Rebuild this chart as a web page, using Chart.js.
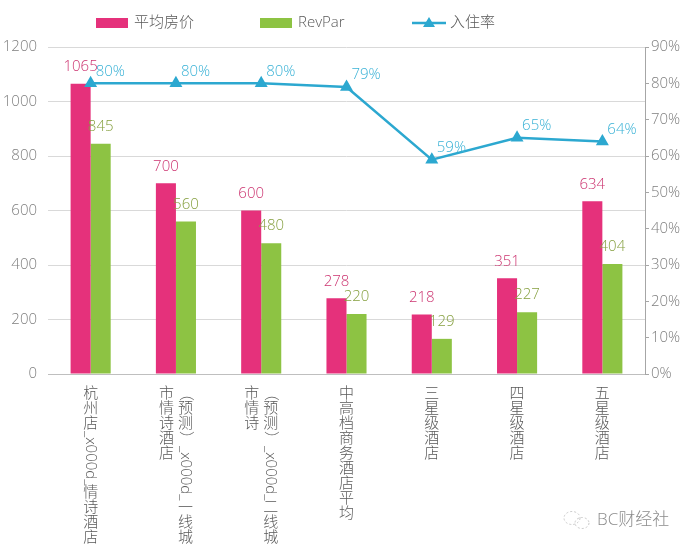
<!DOCTYPE html>
<html>
<head>
<meta charset="utf-8">
<title>平均房价 / RevPar / 入住率</title>
<script src="https://cdn.jsdelivr.net/npm/chart.js@4"></script>
<style>
  html, body { margin: 0; padding: 0; background: #fff; }
  canvas { display: block; }
</style>
</head>
<body>
<canvas id="hotelChart" width="692" height="550"></canvas>
<script>
// Chart data (columns of each category label, first column is drawn rightmost)
const categories = [
  ['杭州店_x000d_情诗酒店'],
  ['（预测）_x000d_一线城', '市情诗酒店'],
  ['（预测）_x000d_二线城', '市情诗'],
  ['中高档商务酒店平均'],
  ['三星级酒店'],
  ['四星级酒店'],
  ['五星级酒店']
];
const avgPrice = [1065, 700, 600, 278, 218, 351, 634];
const revPar = [845, 560, 480, 220, 129, 227, 404];
const occupancy = [80, 80, 80, 79, 59, 65, 64];
const priceTicks = [0, 200, 400, 600, 800, 1000, 1200];
const rateTicks = [0, 10, 20, 30, 40, 50, 60, 70, 80, 90];

const FONT = '"Open Sans", "Noto Sans CJK SC", sans-serif';
const WEIGHT = '300';
const PINK = '#e5317b';
const GREEN = '#8dc343';
const BLUE = '#2ca8d0';

Chart.defaults.font.family = FONT;
Chart.defaults.font.size = 15;
Chart.defaults.font.weight = WEIGHT;
Chart.defaults.color = '#7f7f7f';

// Value labels above bars and beside line points
const valueLabels = {
  id: 'valueLabels',
  afterDatasetsDraw(chart) {
    const ctx = chart.ctx;
    ctx.save();
    ctx.font = WEIGHT + ' 15px ' + FONT;
    chart.data.datasets.forEach((ds, di) => {
      const meta = chart.getDatasetMeta(di);
      meta.data.forEach((el, i) => {
        const v = ds.data[i];
        ctx.fillStyle = ds.labelColor;
        ctx.textBaseline = 'middle';
        if (ds.type === 'line') {
          ctx.textAlign = 'left';
          ctx.fillText(v + '%', el.x + 5, el.y - 12);
        } else {
          ctx.textAlign = 'center';
          ctx.fillText(String(v), el.x, el.y - 17);
        }
      });
    });
    ctx.restore();
  }
};

// Stacked vertical category labels
const verticalLabels = {
  id: 'verticalLabels',
  afterDraw(chart) {
    const ctx = chart.ctx;
    const x = chart.scales.x;
    const step = 15, colGap = 19, top = 386;
    ctx.save();
    ctx.font = WEIGHT + ' 15px ' + FONT;
    ctx.fillStyle = '#595959';
    chart.data.labels.forEach((cols, i) => {
      const cx = x.getPixelForValue(i);
      cols.forEach((text, k) => {
        const colX = cx + (cols.length - 1) / 2 * colGap - k * colGap;
        let y = top;
        let run = '';
        const flush = () => {
          if (!run) return;
          ctx.save();
          ctx.translate(colX, y);
          ctx.rotate(Math.PI / 2);
          ctx.textAlign = 'left';
          ctx.textBaseline = 'middle';
          ctx.fillText(run, 0, 0);
          ctx.restore();
          y += ctx.measureText(run).width;
          run = '';
        };
        for (const ch of text) {
          if (ch.charCodeAt(0) < 128) { run += ch; continue; }
          flush();
          ctx.textAlign = 'center';
          ctx.textBaseline = 'middle';
          if (ch === '（' || ch === '）') {
            ctx.save();
            ctx.translate(colX, y + step / 2);
            ctx.rotate(Math.PI / 2);
            ctx.fillText(ch, 0, 0);
            ctx.restore();
          } else {
            ctx.fillText(ch, colX, y + step / 2);
          }
          y += step;
        }
        flush();
      });
    });
    ctx.restore();
  }
};

// Legend on top + watermark
const topLegend = {
  id: 'topLegend',
  afterDraw(chart) {
    const ctx = chart.ctx;
    const xs = [96, 260, 412];
    const y = 23;
    ctx.save();
    ctx.font = WEIGHT + ' 15px ' + FONT;
    ctx.textBaseline = 'middle';
    ctx.textAlign = 'left';
    chart.data.datasets.forEach((ds, i) => {
      const x0 = xs[i];
      if (ds.type === 'line') {
        ctx.strokeStyle = ds.borderColor;
        ctx.lineWidth = 2.5;
        ctx.beginPath();
        ctx.moveTo(x0, y);
        ctx.lineTo(x0 + 34, y);
        ctx.stroke();
        ctx.fillStyle = ds.borderColor;
        ctx.beginPath();
        ctx.moveTo(x0 + 17, y - 6);
        ctx.lineTo(x0 + 23, y + 4);
        ctx.lineTo(x0 + 11, y + 4);
        ctx.closePath();
        ctx.fill();
      } else {
        ctx.fillStyle = ds.backgroundColor;
        ctx.fillRect(x0, y - 5, 32, 10);
      }
      ctx.fillStyle = '#595959';
      ctx.fillText(ds.label, x0 + 38, y);
    });

    // watermark
    ctx.strokeStyle = '#c8c8c8';
    ctx.lineWidth = 1;
    ctx.setLineDash([2, 2]);
    ctx.beginPath();
    ctx.ellipse(572, 518, 8, 6.5, 0, 0, Math.PI * 2);
    ctx.stroke();
    ctx.beginPath();
    ctx.ellipse(582, 523, 7, 5.5, 0, 0, Math.PI * 2);
    ctx.stroke();
    ctx.setLineDash([]);
    ctx.fillStyle = '#8c8c8c';
    ctx.font = WEIGHT + ' 17px ' + FONT;
    ctx.fillText('BC财经社', 597, 520);
    ctx.restore();
  }
};

function initHotelChart() {
  const el = document.getElementById('hotelChart');
  new Chart(el, {
    data: {
      labels: categories,
      datasets: [
        {
          type: 'bar', label: '平均房价', data: avgPrice, yAxisID: 'y',
          backgroundColor: PINK, labelColor: '#cc3470', order: 2,
          categoryPercentage: 0.47, barPercentage: 1.0, borderWidth: 0
        },
        {
          type: 'bar', label: 'RevPar', data: revPar, yAxisID: 'y',
          backgroundColor: GREEN, labelColor: '#86a040', order: 2,
          categoryPercentage: 0.47, barPercentage: 1.0, borderWidth: 0
        },
        {
          type: 'line', label: '入住率', data: occupancy, yAxisID: 'y1',
          borderColor: BLUE, backgroundColor: BLUE, labelColor: '#3ab2d6',
          borderWidth: 2.5, tension: 0, order: 1, clip: false,
          pointStyle: 'triangle', pointRadius: 5, pointHoverRadius: 5,
          pointBackgroundColor: BLUE, pointBorderColor: BLUE
        }
      ]
    },
    options: {
      responsive: false,
      animation: false,
      devicePixelRatio: 1,
      layout: { padding: { top: 47, left: 0, right: 0, bottom: 0 } },
      plugins: { legend: { display: false }, tooltip: { enabled: false } },
      scales: {
        x: {
          grid: { display: false },
          border: { display: true, color: '#bfbfbf' },
          ticks: { display: false },
          afterFit: (s) => { s.height = 176; }
        },
        y: {
          position: 'left',
          min: priceTicks[0], max: priceTicks[priceTicks.length - 1],
          ticks: { stepSize: priceTicks[1] - priceTicks[0], padding: 11, color: '#7f7f7f', callback: v => String(v) },
          grid: { color: '#d9d9d9', drawTicks: false },
          border: { display: false },
          afterFit: (s) => { s.width = 48; }
        },
        y1: {
          position: 'right',
          min: rateTicks[0], max: rateTicks[rateTicks.length - 1],
          ticks: { stepSize: rateTicks[1] - rateTicks[0], padding: 2, color: '#7f7f7f', callback: v => v + '%' },
          grid: { drawOnChartArea: false, drawTicks: true, tickLength: 4, color: '#a6a6a6' },
          border: { display: true, color: '#a6a6a6' },
          afterFit: (s) => { s.width = 47; }
        }
      }
    },
    plugins: [valueLabels, verticalLabels, topLegend]
  });
}

document.addEventListener('DOMContentLoaded', initHotelChart);
</script>
</body>
</html>
